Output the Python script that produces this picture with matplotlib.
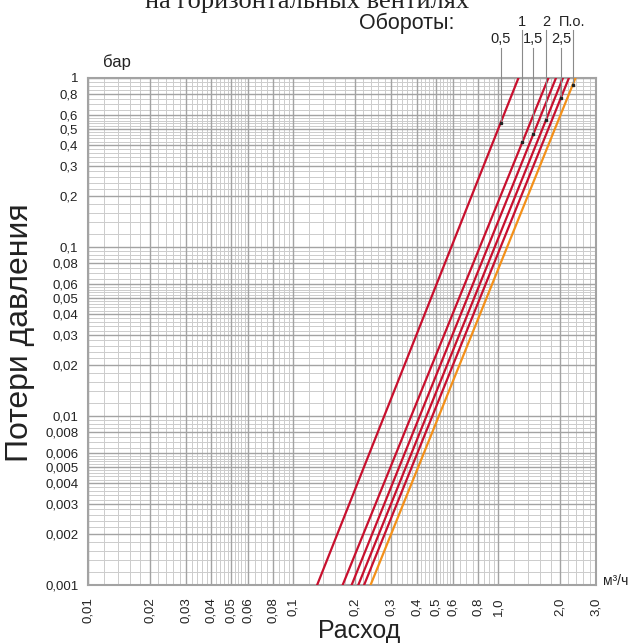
import numpy as np
import matplotlib.pyplot as plt

plt.rcParams['font.family'] = ['Liberation Sans', 'DejaVu Sans']

# pressure drop limits of each curve (bar)
dp_ends = [0.001, 1.0]
# flow (m3/h) at dp = 0.001 and at dp = 1 for each setting
turns = ['0,5', '1', '1,5', '2', '2,5', 'П.о.']
q_low = [0.131, 0.1745, 0.193, 0.208, 0.222, 0.2387]
q_high = [1.256, 1.758, 1.914, 2.07, 2.213, 2.382]
line_colors = ['#c8102e', '#c8102e', '#c8102e', '#c8102e', '#c8102e', '#f39019']
# flow where the label leader meets the curve
q_leader = [1.028, 1.311, 1.483, 1.71, 2.024, 2.307]
label_row = [0, 1, 0, 1, 0, 1]  # 0 = lower row, 1 = upper row

x_ticks = [0.01, 0.02, 0.03, 0.04, 0.05, 0.06, 0.08, 0.1,
           0.2, 0.3, 0.4, 0.5, 0.6, 0.8, 1.0, 2.0, 3.0]
x_labels = ['0,01', '0,02', '0,03', '0,04', '0,05', '0,06', '0,08', '0,1',
            '0,2', '0,3', '0,4', '0,5', '0,6', '0,8', '1,0', '2,0', '3,0']
y_ticks = [0.001, 0.002, 0.003, 0.004, 0.005, 0.006, 0.008, 0.01,
           0.02, 0.03, 0.04, 0.05, 0.06, 0.08, 0.1,
           0.2, 0.3, 0.4, 0.5, 0.6, 0.8, 1]
y_labels = ['0,001', '0,002', '0,003', '0,004', '0,005', '0,006', '0,008', '0,01',
            '0,02', '0,03', '0,04', '0,05', '0,06', '0,08', '0,1',
            '0,2', '0,3', '0,4', '0,5', '0,6', '0,8', '1']

fig = plt.figure(figsize=(6.34, 6.44), dpi=100)
ax = fig.add_axes([88 / 634, 59 / 644, 508 / 634, 507 / 644])
ax.set_xscale('log')
ax.set_yscale('log')
ax.set_xlim(0.01, 3.0)
ax.set_ylim(0.001, 1)

# graph paper grid
sub = np.concatenate([np.arange(1.2, 6.0, 0.2), np.arange(6.5, 10.0, 0.5)])
for d in [0.01, 0.1, 1.0]:
    for v in sub * d:
        if v < 3.0:
            ax.axvline(v, color='#cccccc', lw=0.7, zorder=1)
for d in [0.001, 0.01, 0.1]:
    for v in sub * d:
        ax.axhline(v, color='#cccccc', lw=0.7, zorder=1)
for v in x_ticks:
    ax.axvline(v, color='#a3a3a3', lw=1.0, zorder=1)
for v in y_ticks:
    ax.axhline(v, color='#a3a3a3', lw=1.0, zorder=1)

for s in ax.spines.values():
    s.set_color('#a3a3a3')
    s.set_linewidth(1.5)

ax.set_xticks(x_ticks)
ax.set_xticklabels(x_labels, rotation=90, fontsize=9.5)
ax.set_yticks(y_ticks)
ax.set_yticklabels(y_labels, fontsize=9.5)
ax.xaxis.set_minor_locator(plt.NullLocator())
ax.yaxis.set_minor_locator(plt.NullLocator())
ax.tick_params(length=0, pad=7, colors='#222222')
ax.tick_params(axis='x', pad=9)

for i in range(len(turns)):
    ax.plot([q_low[i], q_high[i]], dp_ends, color=line_colors[i], lw=1.6, zorder=3)

# leaders and labels
trans = ax.get_xaxis_transform()
for i in range(len(turns)):
    lq = np.log10(q_leader[i])
    frac = (lq - np.log10(q_low[i])) / (np.log10(q_high[i]) - np.log10(q_low[i]))
    dp = 10 ** (-3 + 3 * frac)
    top = 1.095 if label_row[i] else 1.059
    ty = 1.111 if label_row[i] else 1.076
    y_dot = (np.log10(dp) + 3) / 3
    ax.plot([q_leader[i], q_leader[i]], [y_dot, top], color='#8a8a8a', lw=0.8,
            transform=trans, clip_on=False, zorder=4)
    ax.plot(q_leader[i], dp, 's', color='#222222', ms=1.8, zorder=5)
    ax.text(q_leader[i], ty, turns[i], transform=trans, ha='center', va='center',
            fontsize=10.5, color='#222222')

fig.text(455 / 634, 1 - 23 / 644, 'Обороты:', ha='right', va='center', fontsize=15.5,
         color='#222222')
fig.text(103 / 634, 1 - 62 / 644, 'бар', ha='left', va='center', fontsize=12,
         color='#222222')
fig.text(603 / 634, 1 - 581 / 644, 'м³/ч', ha='left', va='center', fontsize=10,
         color='#222222')
fig.text(359 / 634, 1 - 631 / 644, 'Расход', ha='center', va='center', fontsize=18,
         color='#222222')
fig.text(20 / 634, 1 - 333 / 644, 'Потери давления', ha='center', va='center',
         rotation=90, fontsize=23, color='#222222')
# title cut off at the top edge
fig.text(307 / 634, 1 - 8 / 644, 'на горизонтальных вентилях', ha='center',
         va='baseline', fontsize=19, family='Liberation Serif', color='#222222')

fig.savefig('out.png', dpi=100)
